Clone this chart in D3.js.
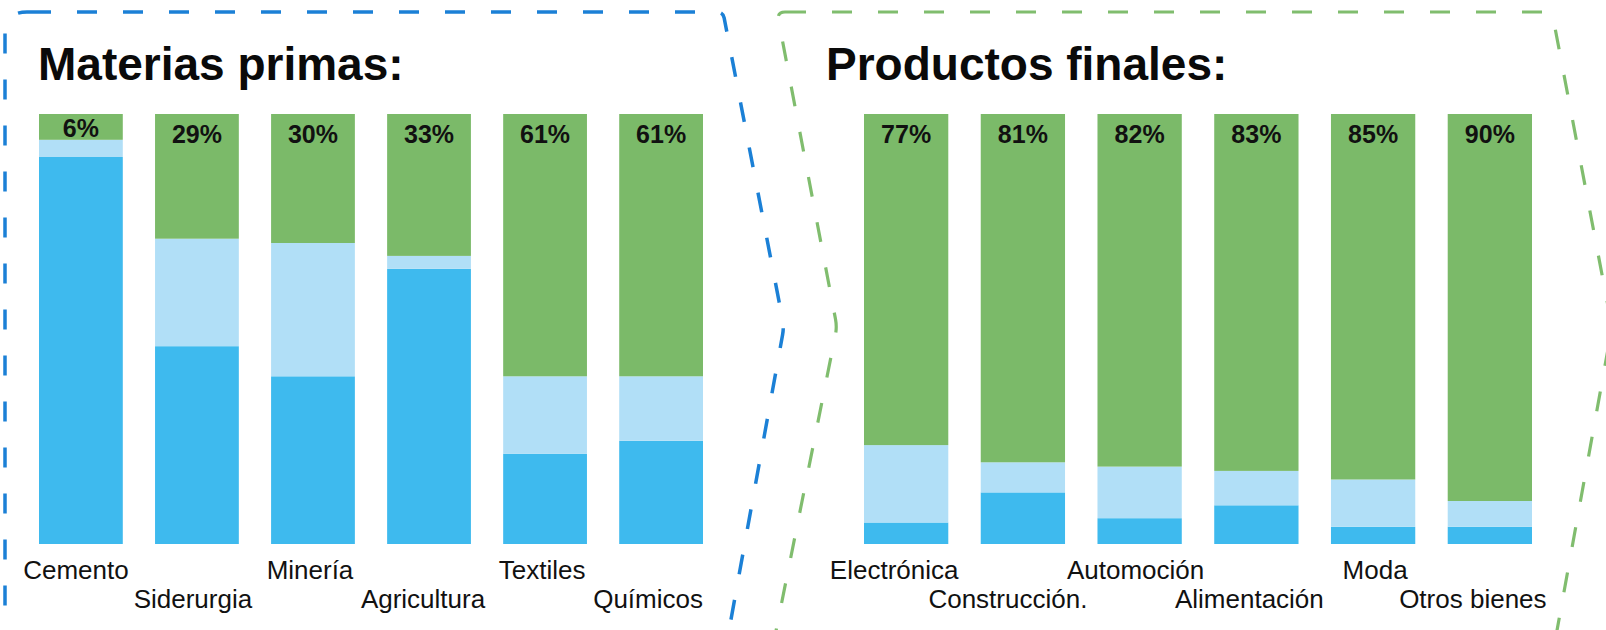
<!DOCTYPE html>
<html>
<head>
<meta charset="utf-8">
<script src="https://cdn.jsdelivr.net/npm/d3@7"></script>
<style>
  body { margin: 0; background: #fff; }
  svg { display: block; font-family: "Liberation Sans", Arial, Helvetica, sans-serif; }
</style>
</head>
<body>
<svg id="chart"></svg>
<script>
// raw materials panel
const rawCategories = ["Cemento", "Siderurgia", "Minería", "Agricultura", "Textiles", "Químicos"]
const rawGreen      = [6, 29, 30, 33, 61, 61]
const rawLightBlue  = [4, 25, 31, 3, 18, 15]
const rawBlue       = [90, 46, 39, 64, 21, 24]

// final products panel
const finalCategories = ["Electrónica", "Construcción.", "Automoción", "Alimentación", "Moda", "Otros bienes"]
const finalGreen      = [77, 81, 82, 83, 85, 90]
const finalLightBlue  = [18, 7, 12, 8, 11, 6]
const finalBlue       = [5, 12, 6, 9, 4, 4]

const width = 1606
const height = 630

const colors = { blue: "#3ebaee", light: "#b1dff7", green: "#7bba69" }

const svg = d3.select("#chart")
              .attr("width", width)
              .attr("height", height)

const y = d3.scaleLinear()
            .domain([0, 100])
            .range([544, 114])

const stack = d3.stack().keys(["blue", "light", "green"])

// polygon with optionally rounded corners, [x, y, radius]
function roundedOutline(pts)
{
  const p = d3.path()
  p.moveTo(pts[0][0], pts[0][1])
  const n = pts.length
  for (let i = 1; i <= n; i++) {
    const cur = pts[i % n], prev = pts[i - 1], next = pts[(i + 1) % n]
    const r = cur[2] || 0
    if (!r) { p.lineTo(cur[0], cur[1]); continue }
    const d1 = Math.hypot(cur[0] - prev[0], cur[1] - prev[1])
    const d2 = Math.hypot(next[0] - cur[0], next[1] - cur[1])
    p.lineTo(cur[0] + (prev[0] - cur[0]) * r / d1, cur[1] + (prev[1] - cur[1]) * r / d1)
    p.quadraticCurveTo(cur[0], cur[1], cur[0] + (next[0] - cur[0]) * r / d2, cur[1] + (next[1] - cur[1]) * r / d2)
  }
  return p.toString()
}

// dashed chevron frames
svg.append("path")
   .attr("d", roundedOutline([[31, 12], [723, 12, 6], [784, 327, 8], [728, 636, 6], [5, 636, 16], [5, 12, 22]]))
   .attr("fill", "none")
   .attr("stroke", "#1b80d6")
   .attr("stroke-width", 3.5)
   .attr("stroke-dasharray", "20 26")

svg.append("path")
   .attr("d", roundedOutline([[786, 12], [1552, 12, 6], [1612, 327, 8], [1556, 636, 6], [775, 636, 6], [837, 327, 8], [777, 12, 8]]))
   .attr("fill", "none")
   .attr("stroke", "#80bd6e")
   .attr("stroke-width", 3.2)
   .attr("stroke-dasharray", "20 26")


function drawPanel(opts)
{
  const rows = opts.categories.map((c, i) => ({
    cat: c, blue: opts.blue[i], light: opts.light[i], green: opts.green[i]
  }))

  const x = d3.scaleBand()
              .domain(opts.categories)
              .range(opts.xRange)
              .paddingInner(0.278)
              .paddingOuter(0)

  const g = svg.append("g")

  g.append("text")
   .attr("x", opts.titleX)
   .attr("y", 80)
   .attr("font-size", 46)
   .attr("font-weight", "bold")
   .attr("fill", "#0a0a0a")
   .text(opts.title)

  const series = stack(rows)

  g.selectAll(".layer")
   .data(series)
   .join("g")
   .attr("class", "layer")
   .attr("fill", d => colors[d.key])
   .selectAll("rect")
   .data(d => d)
   .join("rect")
   .attr("x", d => x(d.data.cat))
   .attr("width", x.bandwidth())
   .attr("y", d => y(d[1]))
   .attr("height", d => y(d[0]) - y(d[1]))

  // share of the green part, written on top of each bar
  g.selectAll(".pct")
   .data(rows)
   .join("text")
   .attr("class", "pct")
   .attr("x", d => x(d.cat) + x.bandwidth() / 2)
   .attr("y", d => Math.min(y(100) + 28.5, y(d.blue + d.light) - 2.5))
   .attr("text-anchor", "middle")
   .attr("font-size", 25)
   .attr("font-weight", "bold")
   .attr("fill", "#111")
   .text(d => d.green + "%")

  g.selectAll(".cat")
   .data(rows)
   .join("text")
   .attr("class", "cat")
   .attr("x", (d, i) => x(d.cat) + x.bandwidth() / 2 + opts.labelDx[i])
   .attr("y", (d, i) => i % 2 ? 608 : 579)
   .attr("text-anchor", "middle")
   .attr("font-size", 26)
   .attr("fill", "#111")
   .text(d => d.cat)
}

drawPanel({
  title: "Materias primas:", titleX: 38, xRange: [39, 703],
  categories: rawCategories, green: rawGreen, light: rawLightBlue, blue: rawBlue,
  labelDx: [-5, -4, -3, -6, -3, -13]
})

drawPanel({
  title: "Productos finales:", titleX: 826, xRange: [864, 1532],
  categories: finalCategories, green: finalGreen, light: finalLightBlue, blue: finalBlue,
  labelDx: [-12, -15, -4, -7, 2, -17]
})
</script>
</body>
</html>
